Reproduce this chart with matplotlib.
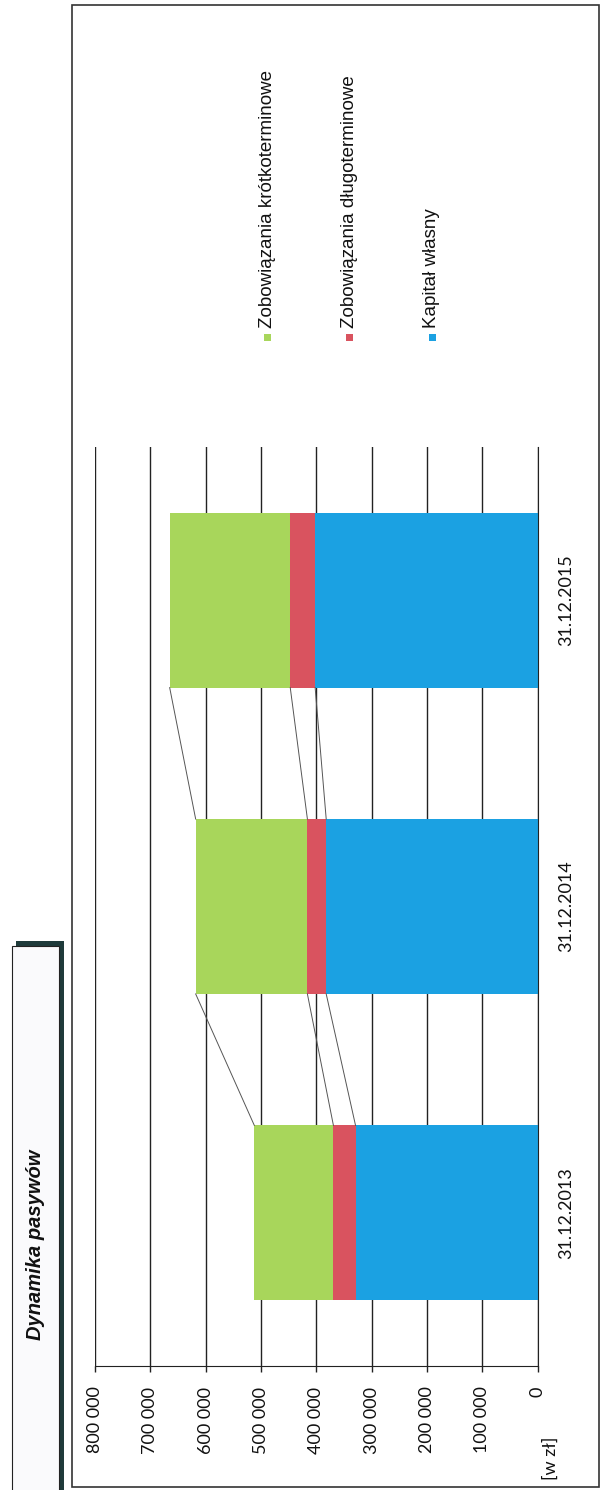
import matplotlib
matplotlib.use("Agg")
import matplotlib.pyplot as plt
from matplotlib.patches import Rectangle
import numpy as np

# ---- data ----
categories = ["31.12.2013", "31.12.2014", "31.12.2015"]
kapital_wlasny = [329000, 382000, 402000]
zob_dlugoterminowe = [40000, 34000, 45000]
zob_krotkoterminowe = [143000, 202000, 218000]
series_names = ["Zobowiązania krótkoterminowe", "Zobowiązania długoterminowe", "Kapitał własny"]
value_ticks = [0, 100000, 200000, 300000, 400000, 500000, 600000, 700000, 800000]

c_green = "#A8D65B"
c_red = "#D9535F"
c_blue = "#1BA1E2"

W, H = 601, 1490
fig = plt.figure(figsize=(W / 100, H / 100), dpi=100)

def fx(x):
    return x / W

def fy(y):
    return 1 - y / H

# outer chart border
fig.patches.append(Rectangle((fx(72), fy(1487)), fx(599) - fx(72), fy(5) - fy(1487),
                             transform=fig.transFigure, fill=False, ec="#333333", lw=1.2))

# title box with shadow
fig.patches.append(Rectangle((fx(16), fy(1500)), fx(64) - fx(16), fy(941) - fy(1500),
                             transform=fig.transFigure, fc="#1F3B3B", ec="none"))
fig.patches.append(Rectangle((fx(12), fy(1500)), fx(59) - fx(12), fy(946) - fy(1500),
                             transform=fig.transFigure, fc="#FAFAFC", ec="#222222", lw=0.8))
fig.text(fx(36), fy(1245), "Dynamika pasywów", rotation=90, ha="center", va="center",
         fontsize=14.5, fontweight="bold", fontstyle="italic",
         family=["Liberation Sans Narrow", "Liberation Sans"], color="#111111")

ax_left, ax_right = 95, 537.5
ax_top, ax_bottom = 447, 1366
ax = fig.add_axes([fx(ax_left), fy(ax_bottom), fx(ax_right) - fx(ax_left), fy(ax_top) - fy(ax_bottom)])

y = np.arange(len(categories))
bh = 0.571
blue = np.array(kapital_wlasny)
red = np.array(zob_dlugoterminowe)
green = np.array(zob_krotkoterminowe)

ax.set_axisbelow(True)
ax.barh(y, blue, height=bh, color=c_blue, zorder=2)
ax.barh(y, red, left=blue, height=bh, color=c_red, zorder=2)
ax.barh(y, green, left=blue + red, height=bh, color=c_green, zorder=2)

# series lines
bounds = [blue, blue + red, blue + red + green]
for b in bounds:
    for i in range(len(categories) - 1):
        ax.plot([b[i], b[i + 1]], [y[i] + bh / 2, y[i + 1] - bh / 2],
                color="#555555", lw=0.7, zorder=3)

ax.set_xlim(800000, 0)
ax.set_ylim(-0.5, len(categories) - 0.5)
ax.set_xticks(value_ticks)
ax.set_xticklabels([f"{v:,}".replace(",", " ") for v in value_ticks], rotation=90,
                   fontsize=13, family="Lato", color="#111111", va="top", ha="center")
ax.tick_params(axis="x", direction="out", length=4.3, width=1, color="#222222", pad=10.5)
ax.grid(axis="x", color="#222222", lw=1)
ax.yaxis.tick_right()
ax.set_yticks(y)
ax.set_yticklabels(categories, rotation=90, fontsize=13, family="Lato", color="#111111",
                   va="center", ha="left")
ax.tick_params(axis="y", length=0, pad=15)
for s in ["top", "left"]:
    ax.spines[s].set_visible(False)
ax.spines["bottom"].set_color("#222222")
ax.spines["right"].set_color("#222222")

# unit label
fig.text(fx(551), fy(1458), "[w zł]", rotation=90, ha="center", va="center",
         fontsize=13, family="Lato", color="#111111")

# legend (rotated)
leg_x = [267, 349, 432]
leg_colors = [c_green, c_red, c_blue]
for name, col, lx in zip(series_names, leg_colors, leg_x):
    fig.patches.append(Rectangle((fx(lx - 3.5), fy(341)), fx(7), fy(0) - fy(7),
                                 transform=fig.transFigure, fc=col, ec="none"))
    fig.text(fx(lx), fy(328), name, rotation=90, ha="center", va="bottom",
             fontsize=13.5, family="Liberation Sans", color="#111111")

fig.savefig("out.png", dpi=100)
